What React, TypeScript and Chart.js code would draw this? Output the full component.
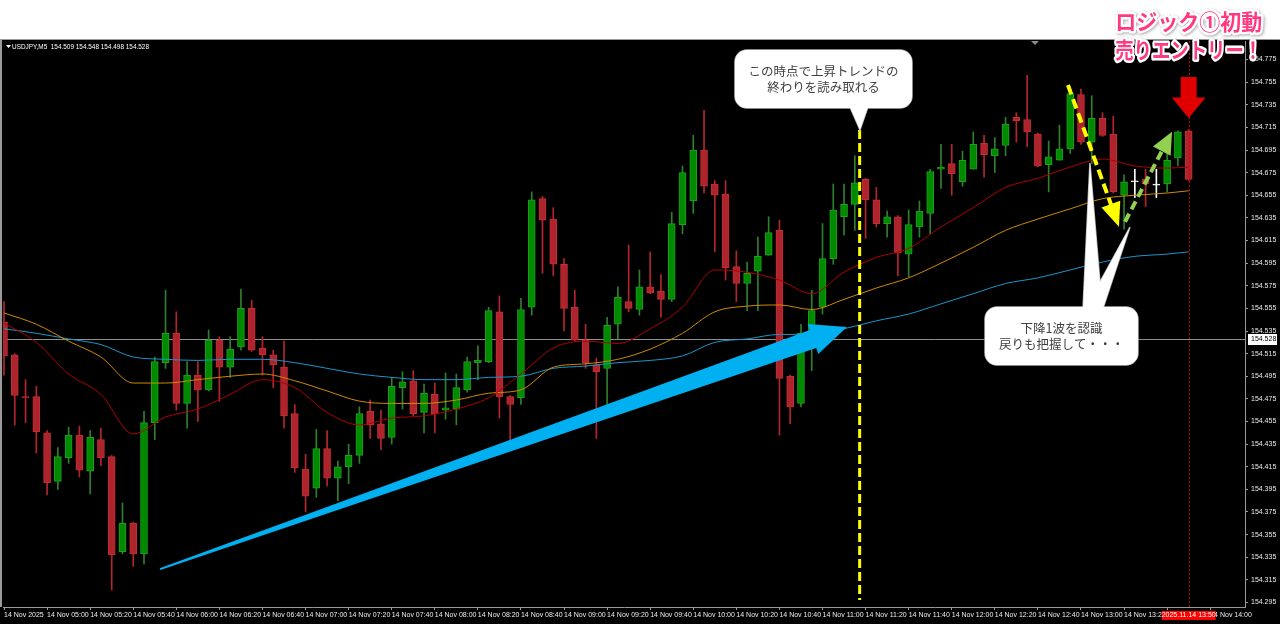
import React, { useEffect, useRef } from "react";
import { Chart, registerables } from "chart.js";

Chart.register(...registerables);

// ---------- data (USDJPY M5, 14 Nov 04:40 .. 13:50) ----------
const opens = [
  154.543, 154.514, 154.477, 154.477, 154.445, 154.402, 154.423, 154.443, 154.411, 154.439,
  154.424, 154.340, 154.365, 154.338, 154.454, 154.507, 154.533, 154.471, 154.496, 154.483,
  154.527, 154.503, 154.521, 154.555, 154.520, 154.514, 154.503, 154.462, 154.413, 154.396,
  154.431, 154.405, 154.415, 154.425, 154.464, 154.453, 154.441, 154.485, 154.491, 154.463,
  154.479, 154.465, 154.466, 154.483, 154.507, 154.508, 154.552, 154.477, 154.476, 154.556,
  154.652, 154.634, 154.594, 154.556, 154.527, 154.505, 154.502, 154.541, 154.561, 154.554,
  154.574, 154.570, 154.563, 154.629, 154.650, 154.695, 154.665, 154.656, 154.592, 154.577,
  154.588, 154.602, 154.624, 154.495, 154.471, 154.533, 154.556, 154.599, 154.636, 154.647,
  154.669, 154.651, 154.630, 154.636, 154.603, 154.627, 154.639, 154.678, 154.683, 154.667,
  154.678, 154.701, 154.690, 154.699, 154.724, 154.722, 154.709, 154.682, 154.686, 154.696,
  154.744, 154.702, 154.723, 154.709, 154.655, 154.667, 154.669, 154.664, 154.665, 154.688,
  154.712,
];
const highs = [
  154.561, 154.515, 154.492, 154.486, 154.447, 154.432, 154.450, 154.451, 154.447, 154.449,
  154.425, 154.383, 154.366, 154.464, 154.512, 154.571, 154.552, 154.508, 154.508, 154.536,
  154.530, 154.530, 154.572, 154.562, 154.530, 154.518, 154.526, 154.470, 154.426, 154.448,
  154.447, 154.420, 154.435, 154.468, 154.474, 154.465, 154.494, 154.499, 154.500, 154.488,
  154.489, 154.498, 154.497, 154.512, 154.522, 154.556, 154.566, 154.478, 154.564, 154.658,
  154.654, 154.644, 154.599, 154.571, 154.541, 154.511, 154.547, 154.574, 154.611, 154.589,
  154.605, 154.585, 154.640, 154.681, 154.708, 154.730, 154.668, 154.668, 154.606, 154.596,
  154.618, 154.636, 154.633, 154.496, 154.541, 154.571, 154.630, 154.665, 154.665, 154.690,
  154.670, 154.662, 154.641, 154.637, 154.642, 154.650, 154.678, 154.700, 154.700, 154.694,
  154.711, 154.708, 154.706, 154.724, 154.728, 154.761, 154.710, 154.703, 154.717, 154.751,
  154.749, 154.743, 154.728, 154.725, 154.673, 154.678, 154.678, 154.678, 154.692, 154.712,
  154.713,
];
const lows = [
  154.496, 154.452, 154.454, 154.427, 154.390, 154.395, 154.418, 154.406, 154.391, 154.416,
  154.306, 154.338, 154.327, 154.329, 154.439, 154.502, 154.465, 154.449, 154.455, 154.482,
  154.473, 154.494, 154.518, 154.517, 154.496, 154.485, 154.449, 154.410, 154.375, 154.388,
  154.398, 154.385, 154.400, 154.418, 154.440, 154.430, 154.435, 154.466, 154.460, 154.445,
  154.445, 154.457, 154.452, 154.481, 154.492, 154.507, 154.458, 154.437, 154.470, 154.549,
  154.586, 154.584, 154.535, 154.526, 154.502, 154.440, 154.468, 154.528, 154.552, 154.549,
  154.568, 154.547, 154.561, 154.621, 154.639, 154.657, 154.605, 154.580, 154.561, 154.553,
  154.553, 154.602, 154.443, 154.453, 154.468, 154.500, 154.550, 154.594, 154.620, 154.624,
  154.617, 154.627, 154.618, 154.584, 154.583, 154.618, 154.621, 154.661, 154.655, 154.663,
  154.678, 154.671, 154.675, 154.690, 154.702, 154.698, 154.680, 154.658, 154.686, 154.692,
  154.700, 154.683, 154.707, 154.657, 154.625, 154.653, 154.645, 154.653, 154.658, 154.681,
  154.668,
];
const closes = [
  154.513, 154.478, 154.476, 154.446, 154.401, 154.424, 154.443, 154.412, 154.441, 154.423,
  154.337, 154.365, 154.338, 154.454, 154.508, 154.533, 154.471, 154.496, 154.483, 154.527,
  154.503, 154.519, 154.555, 154.518, 154.514, 154.505, 154.460, 154.414, 154.389, 154.431,
  154.405, 154.415, 154.425, 154.462, 154.452, 154.440, 154.486, 154.490, 154.462, 154.480,
  154.462, 154.467, 154.485, 154.508, 154.509, 154.553, 154.477, 154.470, 154.554, 154.651,
  154.633, 154.594, 154.555, 154.527, 154.507, 154.499, 154.540, 154.565, 154.555, 154.574,
  154.569, 154.563, 154.630, 154.675, 154.695, 154.663, 154.655, 154.591, 154.577, 154.586,
  154.601, 154.622, 154.493, 154.468, 154.533, 154.553, 154.599, 154.642, 154.647, 154.666,
  154.651, 154.630, 154.636, 154.604, 154.629, 154.641, 154.676, 154.680, 154.674, 154.686,
  154.700, 154.691, 154.696, 154.718, 154.721, 154.711, 154.681, 154.689, 154.696, 154.745,
  154.702, 154.723, 154.708, 154.658, 154.667, 154.667, 154.665, 154.664, 154.686, 154.711,
  154.669,
];

// moving averages read at these bar indexes
const maIndex = [0, 3, 6, 9, 12, 15, 18, 21, 24, 27, 30, 33, 36, 39, 42, 45, 48, 51, 54, 57,
  60, 63, 66, 69, 72, 75, 78, 81, 84, 87, 90, 93, 96, 99, 102, 105, 108, 110];
const maRed = [154.542, 154.525, 154.497, 154.479, 154.444, 154.459, 154.466, 154.479, 154.492, 154.485,
  154.463, 154.452, 154.458, 154.460, 154.466, 154.476, 154.497, 154.520, 154.526, 154.524,
  154.537, 154.556, 154.589, 154.587, 154.580, 154.568, 154.587, 154.600, 154.608, 154.627,
  154.644, 154.662, 154.670, 154.680, 154.687, 154.681, 154.679, 154.680];
const maOrange = [154.551, 154.541, 154.526, 154.512, 154.489, 154.489, 154.492, 154.495, 154.497, 154.491,
  154.482, 154.473, 154.471, 154.471, 154.474, 154.480, 154.483, 154.503, 154.506, 154.510,
  154.519, 154.533, 154.552, 154.557, 154.558, 154.554, 154.563, 154.573, 154.582, 154.595,
  154.609, 154.624, 154.634, 154.643, 154.652, 154.655, 154.657, 154.659];
const maBlue = [154.537, 154.533, 154.528, 154.523, 154.512, 154.510, 154.509, 154.510, 154.510, 154.507,
  154.502, 154.497, 154.494, 154.492, 154.492, 154.494, 154.495, 154.502, 154.504, 154.507,
  154.509, 154.513, 154.525, 154.528, 154.532, 154.532, 154.537, 154.544, 154.550, 154.559,
  154.568, 154.577, 154.582, 154.589, 154.596, 154.601, 154.603, 154.605];

const yTicks = [154.295, 154.315, 154.335, 154.355, 154.375, 154.395, 154.415, 154.435, 154.455,
  154.475, 154.495, 154.515, 154.535, 154.555, 154.575, 154.595, 154.615, 154.635, 154.655,
  154.675, 154.695, 154.715, 154.735, 154.755, 154.775];
const xTickIndex = [0, 4, 8, 12, 16, 20, 24, 28, 32, 36, 40, 44, 48, 52, 56, 60, 64, 68, 72, 76,
  80, 84, 88, 92, 96, 100, 104, 108, 112];
const xTickLabels = ["14 Nov 2025", "14 Nov 05:00", "14 Nov 05:20", "14 Nov 05:40", "14 Nov 06:00",
  "14 Nov 06:20", "14 Nov 06:40", "14 Nov 07:00", "14 Nov 07:20", "14 Nov 07:40", "14 Nov 08:00",
  "14 Nov 08:20", "14 Nov 08:40", "14 Nov 09:00", "14 Nov 09:20", "14 Nov 09:40", "14 Nov 10:00",
  "14 Nov 10:20", "14 Nov 10:40", "14 Nov 11:00", "14 Nov 11:20", "14 Nov 11:40", "14 Nov 12:00",
  "14 Nov 12:20", "14 Nov 12:40", "14 Nov 13:00", "14 Nov 13:20", "14 Nov 13:40", "14 Nov 14:00"];

const headerText = "USDJPY,M5  154.509 154.548 154.498 154.528";
const bidPrice = 154.528;
const cursorIndex = 110;
const cursorLabel = "2025.11.14 13:50";
const titleLines = ["ロジック①初動", "売りエントリー！"];
const callout1Lines = ["この時点で上昇トレンドの", "終わりを読み取れる"];
const callout2Lines = ["下降1波を認識", "戻りも把握して・・・"];

// annotation anchors in data coordinates: [bar index, price]
const trendLineIndex = 79.45;
const trendLinePrices = [154.7127, 154.2971];
const blueArrow = [[14.49, 154.3245], [78.27, 154.5385]];
const yellowArrow = [[98.79, 154.7525], [103.53, 154.6272]];
const greenArrow = [[104.09, 154.6316], [108.45, 154.7112]];
const redArrowPrices = [154.7595, 154.7233];
const callout1Box = [[67.87, 154.7834], [84.31, 154.7321]];
const callout1Tail = [[78.55, 154.7330], [79.48, 154.7127], [80.22, 154.7330]];
const callout2Box = [[91.09, 154.5562], [105.29, 154.5049]];
const callout2Tail = [[100.19, 154.5550], [100.83, 154.6835], [101.76, 154.5783], [104.55, 154.6269], [102.04, 154.5550]];
const titlePrices = [154.8085, 154.7838];
const shiftMarkIndex = 95.73;

const X_MIN = -0.093;
const X_MAX = 115.23;
const Y_MAX = 154.7914;
const Y_MIN = 154.291;

function taperArrow(ctx: CanvasRenderingContext2D, x1: number, y1: number, x2: number, y2: number,
  tailHalf: number, baseHalf: number, headLen: number, headHalf: number, color: string) {
  const dx = x2 - x1, dy = y2 - y1, L = Math.hypot(dx, dy);
  const ux = dx / L, uy = dy / L, nx = -uy, ny = ux;
  const bx = x2 - ux * headLen, by = y2 - uy * headLen;
  ctx.beginPath();
  ctx.moveTo(x1 + nx * tailHalf, y1 + ny * tailHalf);
  ctx.lineTo(bx + nx * baseHalf, by + ny * baseHalf);
  ctx.lineTo(bx + nx * headHalf, by + ny * headHalf);
  ctx.lineTo(x2, y2);
  ctx.lineTo(bx - nx * headHalf, by - ny * headHalf);
  ctx.lineTo(bx - nx * baseHalf, by - ny * baseHalf);
  ctx.lineTo(x1 - nx * tailHalf, y1 - ny * tailHalf);
  ctx.closePath();
  ctx.fillStyle = color;
  ctx.fill();
}

function dashedArrow(ctx: CanvasRenderingContext2D, x1: number, y1: number, x2: number, y2: number,
  width: number, headLen: number, headHalf: number, color: string, dash: number[]) {
  const dx = x2 - x1, dy = y2 - y1, L = Math.hypot(dx, dy);
  const ux = dx / L, uy = dy / L, nx = -uy, ny = ux;
  const bx = x2 - ux * headLen, by = y2 - uy * headLen;
  ctx.save();
  ctx.strokeStyle = color;
  ctx.lineWidth = width;
  ctx.setLineDash(dash);
  ctx.beginPath();
  ctx.moveTo(x1, y1);
  ctx.lineTo(bx + ux * 2, by + uy * 2);
  ctx.stroke();
  ctx.restore();
  ctx.beginPath();
  ctx.moveTo(x2, y2);
  ctx.lineTo(bx + nx * headHalf, by + ny * headHalf);
  ctx.lineTo(bx - nx * headHalf, by - ny * headHalf);
  ctx.closePath();
  ctx.fillStyle = color;
  ctx.fill();
}

const overlayPlugin = {
  id: "mt4overlay",
  beforeDraw(chart: any) {
    const { ctx, width, height, chartArea } = chart;
    ctx.save();
    ctx.fillStyle = "#000000";
    ctx.fillRect(0, 0, width, height);
    ctx.fillStyle = "#ffffff";
    ctx.fillRect(0, 0, width, chartArea.top - 2);
    ctx.fillStyle = "#9a9a9a";
    ctx.fillRect(0, chartArea.top - 2, width, 1);
    ctx.fillRect(0, chartArea.top - 2, 2, chartArea.bottom - chartArea.top + 2);
    ctx.restore();
  },
  beforeDatasetsDraw(chart: any) {
    const { ctx, chartArea, scales } = chart;
    const y = Math.round(scales.y.getPixelForValue(bidPrice)) + 0.5;
    ctx.save();
    ctx.strokeStyle = "#8f8f8f";
    ctx.lineWidth = 1;
    ctx.beginPath();
    ctx.moveTo(chartArea.left, y);
    ctx.lineTo(chartArea.right, y);
    ctx.stroke();
    ctx.restore();
  },
  afterDraw(chart: any) {
    const { ctx, chartArea, scales } = chart;
    const X = (v: number) => scales.x.getPixelForValue(v);
    const Y = (v: number) => scales.y.getPixelForValue(v);
    ctx.save();

    // header
    ctx.fillStyle = "#ffffff";
    ctx.beginPath();
    ctx.moveTo(chartArea.left + 3, chartArea.top + 4);
    ctx.lineTo(chartArea.left + 8, chartArea.top + 4);
    ctx.lineTo(chartArea.left + 5.5, chartArea.top + 7);
    ctx.closePath();
    ctx.fill();
    ctx.font = "7px 'Liberation Sans'";
    ctx.textBaseline = "middle";
    ctx.textAlign = "left";
    ctx.fillText(headerText, chartArea.left + 9, chartArea.top + 6, 137);

    // shift marker
    ctx.fillStyle = "#8a8a8a";
    ctx.beginPath();
    ctx.moveTo(X(shiftMarkIndex) - 4, chartArea.top);
    ctx.lineTo(X(shiftMarkIndex) + 4, chartArea.top);
    ctx.lineTo(X(shiftMarkIndex), chartArea.top + 4);
    ctx.closePath();
    ctx.fill();

    // clip to plot for in-chart drawings
    ctx.save();
    ctx.beginPath();
    ctx.rect(chartArea.left, chartArea.top, chartArea.right - chartArea.left, chartArea.bottom - chartArea.top);
    ctx.clip();

    // red dotted cursor line
    const cx = Math.round(X(cursorIndex)) + 0.5;
    ctx.strokeStyle = "#d40000";
    ctx.lineWidth = 1;
    ctx.setLineDash([2, 2]);
    ctx.beginPath();
    ctx.moveTo(cx, chartArea.top);
    ctx.lineTo(cx, chartArea.bottom);
    ctx.stroke();
    ctx.setLineDash([]);

    // yellow dashed vertical
    ctx.strokeStyle = "#ffff00";
    ctx.lineWidth = 3;
    ctx.setLineDash([9, 4]);
    ctx.beginPath();
    ctx.moveTo(X(trendLineIndex), Y(trendLinePrices[0]));
    ctx.lineTo(X(trendLineIndex), Y(trendLinePrices[1]));
    ctx.stroke();
    ctx.setLineDash([]);

    // blue arrow
    taperArrow(ctx, X(blueArrow[0][0]), Y(blueArrow[0][1]), X(blueArrow[1][0]), Y(blueArrow[1][1]),
      1, 9.5, 36, 16, "#00b0f0");

    // yellow & green dashed arrows
    dashedArrow(ctx, X(yellowArrow[0][0]), Y(yellowArrow[0][1]), X(yellowArrow[1][0]), Y(yellowArrow[1][1]),
      4, 24, 10, "#ffff00", [10, 5]);
    dashedArrow(ctx, X(greenArrow[0][0]), Y(greenArrow[0][1]), X(greenArrow[1][0]), Y(greenArrow[1][1]),
      4, 22, 10, "#92d050", [9, 5]);

    // red down arrow
    const ra = X(cursorIndex);
    const rTop = Y(redArrowPrices[0]);
    const rTip = Y(redArrowPrices[1]);
    const rMid = rTop + (rTip - rTop) * 0.5;
    ctx.fillStyle = "#e00000";
    ctx.beginPath();
    ctx.moveTo(ra - 8, rTop);
    ctx.lineTo(ra + 8, rTop);
    ctx.lineTo(ra + 8, rMid);
    ctx.lineTo(ra + 17, rMid);
    ctx.lineTo(ra, rTip);
    ctx.lineTo(ra - 17, rMid);
    ctx.lineTo(ra - 8, rMid);
    ctx.closePath();
    ctx.fill();

    // callouts
    const drawCallout = (box: number[][], tail: number[][], lines: string[]) => {
      const x1 = X(box[0][0]), y1 = Y(box[0][1]), x2 = X(box[1][0]), y2 = Y(box[1][1]);
      const tailPath = () => {
        ctx.beginPath();
        tail.forEach((p, k) => (k === 0 ? ctx.moveTo(X(p[0]), Y(p[1])) : ctx.lineTo(X(p[0]), Y(p[1]))));
        ctx.closePath();
      };
      const boxPath = () => {
        ctx.beginPath();
        ctx.roundRect(x1, y1, x2 - x1, y2 - y1, 12);
      };
      ctx.strokeStyle = "#b5b5b5";
      ctx.lineWidth = 1.5;
      boxPath(); ctx.stroke();
      tailPath(); ctx.stroke();
      ctx.fillStyle = "#ffffff";
      boxPath(); ctx.fill();
      tailPath(); ctx.fill();
      ctx.fillStyle = "#3f3f3f";
      ctx.font = "12.5px 'Noto Sans CJK JP'";
      ctx.textAlign = "center";
      ctx.textBaseline = "middle";
      const mx = (x1 + x2) / 2, my = (y1 + y2) / 2;
      ctx.fillText(lines[0], mx, my - 8);
      ctx.fillText(lines[1], mx, my + 8);
    };
    drawCallout(callout1Box, callout1Tail, callout1Lines);
    drawCallout(callout2Box, callout2Tail, callout2Lines);
    ctx.restore();

    // title text (pink)
    const tx = X(cursorIndex);
    ctx.font = "bold 22px 'Noto Sans CJK JP'";
    ctx.textAlign = "center";
    ctx.textBaseline = "middle";
    ctx.lineJoin = "round";
    titleLines.forEach((t, k) => {
      const ty = Y(titlePrices[k]);
      ctx.save();
      ctx.shadowColor = "rgba(0,0,0,0.35)";
      ctx.shadowBlur = 3;
      ctx.shadowOffsetX = 1;
      ctx.shadowOffsetY = 1;
      ctx.strokeStyle = "#ffffff";
      ctx.lineWidth = 5;
      ctx.strokeText(t, tx, ty, 147);
      ctx.restore();
      ctx.fillStyle = "#ff3a80";
      ctx.fillText(t, tx, ty, 147);
    });

    // bid label on price axis
    const by = Math.round(Y(bidPrice));
    ctx.fillStyle = "#ffffff";
    ctx.fillRect(chartArea.right + 3, by - 5, 29, 11);
    ctx.fillStyle = "#000000";
    ctx.font = "7px 'Liberation Sans'";
    ctx.textAlign = "left";
    ctx.textBaseline = "middle";
    ctx.fillText(bidPrice.toFixed(3), chartArea.right + 6, by + 0.5);

    // cursor time label
    ctx.fillStyle = "#ff0000";
    ctx.fillRect(X(cursorIndex) - 27, chartArea.bottom + 4, 54, 9);
    ctx.fillStyle = "#ffffff";
    ctx.textAlign = "center";
    ctx.fillText(cursorLabel, X(cursorIndex), chartArea.bottom + 8.5);

    ctx.restore();
  },
};

export default function App() {
  const ref = useRef<HTMLCanvasElement>(null);
  useEffect(() => {
    const canvas = ref.current;
    if (!canvas) return;
    const dir = opens.map((o, i) => (closes[i] > o ? 1 : closes[i] < o ? -1 : 0));
    const bodyFill = dir.map((d) => (d > 0 ? "#008a00" : d < 0 ? "#ae242c" : "#ffffff"));
    const bodyBorder = dir.map((d) => (d > 0 ? "#1fa01f" : d < 0 ? "#c22d36" : "#ffffff"));
    const wickColor = dir.map((d) => (d > 0 ? "#2f7f2f" : d < 0 ? "#b3262f" : "#ffffff"));

    const maLine = (vals: number[], color: string) => ({
      type: "line" as const,
      data: maIndex.map((x, k) => ({ x, y: vals[k] })),
      borderColor: color,
      borderWidth: 1,
      pointRadius: 0,
      cubicInterpolationMode: "monotone" as const,
      order: 1,
    });

    const chart = new Chart(canvas, {
      type: "bar",
      data: {
        datasets: [
          {
            type: "bar",
            data: lows.map((l, i) => ({ x: i, y: [l, highs[i]] })) as any,
            backgroundColor: wickColor,
            borderWidth: 0,
            barThickness: 1,
            grouped: false,
            minBarLength: 1,
            order: 3,
          },
          {
            type: "bar",
            data: opens.map((o, i) => ({ x: i, y: [o, closes[i]] })) as any,
            backgroundColor: bodyFill,
            borderColor: bodyBorder,
            borderWidth: 1,
            borderSkipped: false,
            barThickness: 7,
            grouped: false,
            minBarLength: 1,
            order: 2,
          },
          maLine(maRed, "#b00000") as any,
          maLine(maOrange, "#d08a00") as any,
          maLine(maBlue, "#1a96cc") as any,
        ],
      },
      options: {
        responsive: false,
        animation: false,
        devicePixelRatio: 1,
        layout: { padding: { top: 41, left: 3, right: 0, bottom: 0 } },
        plugins: { legend: { display: false }, tooltip: { enabled: false } },
        scales: {
          x: {
            type: "linear",
            min: X_MIN,
            max: X_MAX,
            offset: false,
            grid: { offset: false, drawOnChartArea: false, drawTicks: true, tickLength: 3, color: "#9a9a9a" },
            border: { display: true, color: "#9a9a9a" },
            afterBuildTicks: (scale: any) => {
              scale.ticks = xTickIndex.map((v) => ({ value: v }));
            },
            afterFit: (scale: any) => {
              scale.height = 17;
            },
            ticks: {
              autoSkip: false,
              maxRotation: 0,
              minRotation: 0,
              align: "start",
              padding: 1,
              color: "#ececec",
              font: { family: "'Liberation Sans'", size: 7 },
              callback: (v: any) => {
                const k = xTickIndex.indexOf(Number(v));
                return k >= 0 ? xTickLabels[k] : "";
              },
            },
          },
          y: {
            type: "linear",
            position: "right",
            min: Y_MIN,
            max: Y_MAX,
            grid: { drawOnChartArea: false, drawTicks: true, tickLength: 3, color: "#9a9a9a" },
            border: { display: true, color: "#9a9a9a" },
            afterBuildTicks: (scale: any) => {
              scale.ticks = yTicks.map((v) => ({ value: v }));
            },
            afterFit: (scale: any) => {
              scale.width = 35;
            },
            ticks: {
              autoSkip: false,
              padding: 3,
              color: "#ececec",
              font: { family: "'Liberation Sans'", size: 7 },
              callback: (v: any) => Number(v).toFixed(3),
            },
          },
        },
      },
      plugins: [overlayPlugin],
    } as any);
    return () => chart.destroy();
  }, []);
  return (
    <div style={{ position: "fixed", left: 0, top: 0, width: 1280, height: 624, background: "#000" }}>
      <canvas ref={ref} width={1280} height={624} style={{ display: "block", width: 1280, height: 624 }} />
    </div>
  );
}
